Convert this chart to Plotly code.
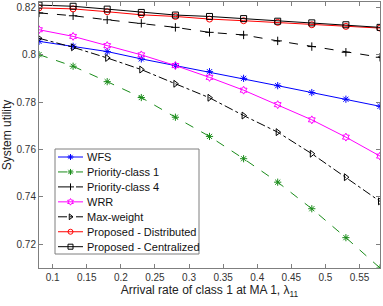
import plotly.graph_objects as go

x_vals = [0.08, 0.13, 0.18, 0.23, 0.28, 0.33, 0.38, 0.43, 0.48, 0.53, 0.58]

wfs = [0.8056, 0.8035, 0.8013, 0.7982, 0.7954, 0.7928, 0.7900, 0.7869, 0.7840, 0.7812, 0.7782]
prio1 = [0.8000, 0.7951, 0.7886, 0.7819, 0.7736, 0.7655, 0.7561, 0.7462, 0.7350, 0.7228, 0.7100]
prio4 = [0.8176, 0.8164, 0.8147, 0.8132, 0.8115, 0.8094, 0.8083, 0.8058, 0.8034, 0.8010, 0.7989]
wrr = [0.8105, 0.8077, 0.8038, 0.7999, 0.7954, 0.7904, 0.7850, 0.7789, 0.7725, 0.7652, 0.7572]
maxweight = [0.8069, 0.8031, 0.7986, 0.7937, 0.7877, 0.7818, 0.7743, 0.7673, 0.7582, 0.7483, 0.7381]
distributed = [0.8197, 0.8193, 0.8181, 0.8168, 0.8161, 0.8150, 0.8143, 0.8136, 0.8126, 0.8119, 0.8112]
centralized = [0.8209, 0.8204, 0.8192, 0.8178, 0.8167, 0.8161, 0.8152, 0.8141, 0.8134, 0.8126, 0.8115]

x_ticks = [0.1, 0.15, 0.2, 0.25, 0.3, 0.35, 0.4, 0.45, 0.5, 0.55]
x_tick_text = ["0.1", "0.15", "0.2", "0.25", "0.3", "0.35", "0.4", "0.45", "0.5", "0.55"]
y_ticks = [0.72, 0.74, 0.76, 0.78, 0.80, 0.82]
y_tick_text = ["0.72", "0.74", "0.76", "0.78", "0.8", "0.82"]

series = [
    ("WFS", wfs, "#0000ff", "solid", "asterisk-open"),
    ("Priority-class 1", prio1, "#1a8c1a", "dash", "asterisk-open"),
    ("Priority-class 4", prio4, "#000000", "dash", "cross-thin-open"),
    ("WRR", wrr, "#ff00ff", "solid", "hexagram-open"),
    ("Max-weight", maxweight, "#000000", "dashdot", "triangle-right-open"),
    ("Proposed - Distributed", distributed, "#ff0000", "solid", "circle-open"),
    ("Proposed - Centralized", centralized, "#000000", "solid", "square-open"),
]

W, H = 383, 306
L, R, T, B = 39, 3, 2, 38
FONT = "Liberation Sans, Arial"

fig = go.Figure()
for name, ys, color, dash, sym in series:
    fig.add_trace(go.Scatter(
        x=x_vals, y=ys, name=name, mode="lines+markers", showlegend=False,
        line=dict(color=color, width=1, dash=dash),
        marker=dict(symbol=sym, size=6, color=color, line=dict(color=color, width=1)),
    ))

# Compact legend drawn on a hidden pixel-unit overlay axis (MATLAB-style spacing)
leg_x0, leg_x1, leg_y0, leg_y1 = 55, 199, 149, 254
row0, row_step = 157, 14.95
fig.add_shape(type="rect", xref="x2", yref="y2", x0=leg_x0, x1=leg_x1, y0=leg_y0, y1=leg_y1,
              line=dict(color="#7f7f7f", width=1), fillcolor="white", layer="below")
for i, (name, ys, color, dash, sym) in enumerate(series):
    yy = row0 + i * row_step
    fig.add_trace(go.Scatter(
        x=[58, 83], y=[yy, yy], xaxis="x2", yaxis="y2", mode="lines", showlegend=False,
        line=dict(color=color, width=1, dash=dash), hoverinfo="skip",
    ))
    fig.add_trace(go.Scatter(
        x=[70.5], y=[yy], xaxis="x2", yaxis="y2", mode="markers", showlegend=False,
        marker=dict(symbol=sym, size=5, color=color, line=dict(color=color, width=1)),
        hoverinfo="skip",
    ))
    fig.add_annotation(x=85, y=yy, xref="x2", yref="y2", text=name, showarrow=False,
                       xanchor="left", yanchor="middle",
                       font=dict(family=FONT, size=11, color="#111111"))

axis_common = dict(
    showline=True, mirror="ticks", linecolor="#7f7f7f", linewidth=1,
    ticks="inside", ticklen=4, tickcolor="#7f7f7f",
    showgrid=False, zeroline=False, automargin=False,
    tickfont=dict(family=FONT, size=10, color="#333333"),
)

fig.update_layout(
    width=W, height=H,
    margin=dict(l=L, r=R, t=T, b=B),
    paper_bgcolor="white", plot_bgcolor="white",
    font=dict(family=FONT, size=11, color="#222222"),
    showlegend=False,
    xaxis=dict(range=[0.08, 0.58], tickvals=x_ticks, ticktext=x_tick_text,
               title=dict(text="Arrival rate of class 1 at MA 1, λ<sub>11</sub>",
                          font=dict(size=12), standoff=2),
               **axis_common),
    yaxis=dict(range=[0.71, 0.8222], tickvals=y_ticks, ticktext=y_tick_text,
               title=dict(text="System utility", font=dict(size=12), standoff=4),
               **axis_common),
    xaxis2=dict(range=[L, W - R], overlaying="x", visible=False, fixedrange=True),
    yaxis2=dict(range=[H - B, T], overlaying="y", visible=False, fixedrange=True),
)

fig.write_html("out.html", config={"displayModeBar": False},
               post_script="document.body.style.margin='0';")
